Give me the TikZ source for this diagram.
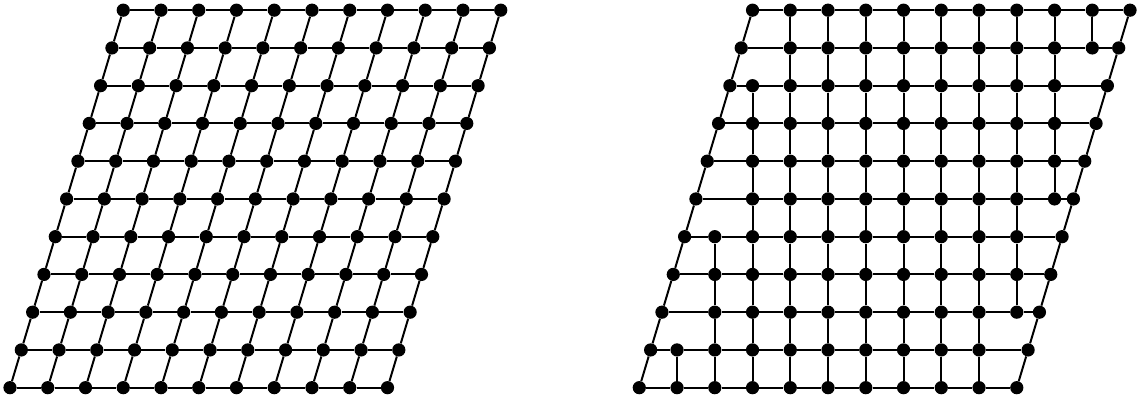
\documentclass[tikz,border=0pt]{standalone}
\usepackage{tikz}
\usetikzlibrary{calc, backgrounds}
\definecolor{ink}{HTML}{000000}

\begin{document}
\begin{tikzpicture}[
    x=1cm, y=1cm,
    % Lattice site
    site/.style={circle, fill=ink, inner sep=0pt, minimum size=0.35cm},
    % Lattice bond
    bond/.style={line width=1.5pt, ink}
]
\useasboundingbox (-0.265,-0.3) rectangle (30.04,10.27);

% ---------- Left: sheared lattice ----------
\foreach \j in {0,...,10}
  \foreach \i in {0,...,10}
    \node[site] (sh-\i-\j) at ({\i+0.3*\j}, \j) {};

\begin{scope}[on background layer]
% rows
\foreach \j in {0,...,10}
  \foreach \i [count=\n from 1] in {0,...,9}
    \draw[bond] (sh-\i-\j) -- (sh-\n-\j);
% slanted columns
\foreach \i in {0,...,10}
  \foreach \j [count=\n from 1] in {0,...,9}
    \draw[bond] (sh-\i-\j) -- (sh-\i-\n);
\end{scope}

% ---------- Right: rounded lattice ----------
\begin{scope}[xshift=16.67cm]
\foreach \j in {0,...,10} {
  \pgfmathtruncatemacro\lo{1.55+0.3*\j}
  \pgfmathtruncatemacro\hi{\lo+8}
  % boundary sites stay on the slant
  \node[site] (rd-l-\j) at ({0.3*\j}, \j) {};
  \node[site] (rd-r-\j) at ({10+0.3*\j}, \j) {};
  % inner sites snap to the square grid
  \foreach \k in {\lo,...,\hi}
    \node[site] (rd-\k-\j) at (\k, \j) {};
}
\end{scope}

\begin{scope}[on background layer]
% rows
\foreach \j in {0,...,10} {
  \pgfmathtruncatemacro\lo{1.55+0.3*\j}
  \pgfmathtruncatemacro\hi{\lo+8}
  \pgfmathtruncatemacro\hm{\hi-1}
  \draw[bond] (rd-l-\j) -- (rd-\lo-\j);
  \foreach \k in {\lo,...,\hm} {
    \pgfmathtruncatemacro\kn{\k+1}
    \draw[bond] (rd-\k-\j) -- (rd-\kn-\j);
  }
  \draw[bond] (rd-\hi-\j) -- (rd-r-\j);
}
% columns: boundary slants, inner verticals where both rows have the site
\foreach \j in {0,...,9} {
  \pgfmathtruncatemacro\up{\j+1}
  \pgfmathtruncatemacro\a{1.55+0.3*\up}
  \pgfmathtruncatemacro\b{1.55+0.3*\j+8}
  \draw[bond] (rd-l-\j) -- (rd-l-\up);
  \draw[bond] (rd-r-\j) -- (rd-r-\up);
  \foreach \k in {\a,...,\b}
    \draw[bond] (rd-\k-\j) -- (rd-\k-\up);
}
\end{scope}

\end{tikzpicture}
\end{document}
